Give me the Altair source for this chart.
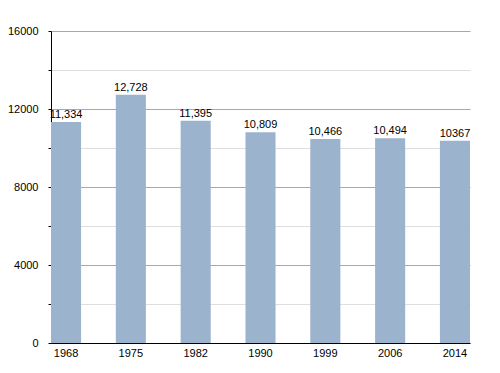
import altair as alt
import pandas as pd

years = ["1968", "1975", "1982", "1990", "1999", "2006", "2014"]
population = [11334, 12728, 11395, 10809, 10466, 10494, 10367]
labels = ["11,334", "12,728", "11,395", "10,809", "10,466", "10,494", "10367"]
y_ticks = [0, 2000, 4000, 6000, 8000, 10000, 12000, 14000, 16000]

df = pd.DataFrame({"year": years, "pop": population, "label": labels})

FONT = "Liberation Sans"

x = alt.X("year:N", sort=years, title=None,
          scale=alt.Scale(paddingInner=0.536, paddingOuter=0),
          axis=alt.Axis(labelAngle=0, ticks=False, domainColor="black",
                        labelFont=FONT, labelFontSize=11, labelColor="black",
                        labelPadding=4))
y = alt.Y("pop:Q", title=None,
          scale=alt.Scale(domain=[0, 16000], nice=False),
          axis=alt.Axis(values=y_ticks,
                        labelExpr="datum.value % 4000 === 0 ? datum.value : ''",
                        grid=True,
                        gridColor={"condition": {"test": "datum.value % 4000 === 0", "value": "#a8a8a8"}, "value": "#dedede"},
                        domainColor="black", tickColor="black", tickSize=3,
                        labelFont=FONT, labelFontSize=11, labelColor="black",
                        labelPadding=10))

bars = alt.Chart(df).mark_bar(color="#9bb3cd").encode(x=x, y=y)
text = alt.Chart(df).mark_text(dy=-7, font=FONT, fontSize=11, color="black").encode(
    x=x, y=y, text="label:N")

chart = (bars + text).properties(
    width=419, height=312,
    autosize=alt.AutoSizeParams(type="none"),
    padding={"left": 43, "top": 23, "right": 10, "bottom": 20},
).configure_view(stroke=None)

chart.save("out.html", embed_options={"renderer": "svg", "actions": False})
